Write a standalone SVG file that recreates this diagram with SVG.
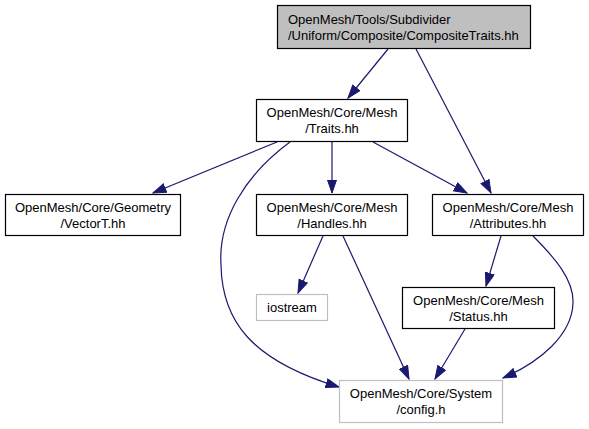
<svg xmlns="http://www.w3.org/2000/svg" width="589" height="429" viewBox="0 0 589 429">
<style>
  .bg { fill: #ffffff; }
  .box { fill: #ffffff; stroke: #000000; stroke-width: 1.2; }
  .cur { fill: #bfbfbf; stroke: #000000; stroke-width: 1.2; }
  .ext { fill: #ffffff; stroke: #bfbfbf; stroke-width: 1.2; }
  text { font-family: "Liberation Sans", Arial, Helvetica, sans-serif; font-size: 13px; fill: #000000; }
  .c { text-anchor: middle; }
  .edge { fill: none; stroke: #191970; stroke-width: 1.2; marker-end: url(#arr); }
</style>
<defs>
  <marker id="arr" markerUnits="userSpaceOnUse" markerWidth="15" markerHeight="12" refX="13.5" refY="5" orient="auto">
    <path d="M0.5,0.5 L13.5,5 L0.5,9.5 z" fill="#191970" stroke="#191970" stroke-width="1"/>
  </marker>
</defs>
<rect class="bg" x="0" y="0" width="589" height="429"/>
<g id="edges">
  <path class="edge" d="M388,49 L348,98"/>
  <path class="edge" d="M416,49 L491,193"/>
  <path class="edge" d="M277,142 L153,193"/>
  <path class="edge" d="M332,142 L332,193"/>
  <path class="edge" d="M373,142 L467,193"/>
  <path class="edge" d="M290,142 C245,175 218,220 221,265 C222,320 250,360 339,387"/>
  <path class="edge" d="M323,236 L298,293"/>
  <path class="edge" d="M343,236 L409,379"/>
  <path class="edge" d="M501,236 L486,286"/>
  <path class="edge" d="M533,236 C555,258 574,280 573,303 C572,335 540,362 503,378"/>
  <path class="edge" d="M465,329 L435,379"/>
</g>
<g id="node-composite-traits">
  <rect class="cur" x="277.5" y="5.5" width="253" height="43"/>
  <text x="288" y="24">OpenMesh/Tools/Subdivider</text>
  <text x="288" y="40">/Uniform/Composite/CompositeTraits.hh</text>
</g>
<g id="node-traits">
  <rect class="box" x="256.5" y="99.5" width="151" height="42"/>
  <text class="c" x="332" y="117">OpenMesh/Core/Mesh</text>
  <text class="c" x="332" y="133">/Traits.hh</text>
</g>
<g id="node-vectort">
  <rect class="box" x="5.5" y="194.5" width="175" height="41"/>
  <text class="c" x="93" y="211.5">OpenMesh/Core/Geometry</text>
  <text class="c" x="93" y="227.5">/VectorT.hh</text>
</g>
<g id="node-handles">
  <rect class="box" x="256.5" y="194.5" width="151" height="41"/>
  <text class="c" x="332" y="211.5">OpenMesh/Core/Mesh</text>
  <text class="c" x="332" y="227.5">/Handles.hh</text>
</g>
<g id="node-attributes">
  <rect class="box" x="432.5" y="194.5" width="151" height="41"/>
  <text class="c" x="508" y="211.5">OpenMesh/Core/Mesh</text>
  <text class="c" x="508" y="227.5">/Attributes.hh</text>
</g>
<g id="node-iostream">
  <rect class="ext" x="256.5" y="294.5" width="71" height="26"/>
  <text class="c" x="292" y="312">iostream</text>
</g>
<g id="node-status">
  <rect class="box" x="402.5" y="287.5" width="152" height="41"/>
  <text class="c" x="478.5" y="304.5">OpenMesh/Core/Mesh</text>
  <text class="c" x="478.5" y="320.5">/Status.hh</text>
</g>
<g id="node-config">
  <rect class="ext" x="339.5" y="380.5" width="163" height="42"/>
  <text class="c" x="421" y="398">OpenMesh/Core/System</text>
  <text class="c" x="421" y="414">/config.h</text>
</g>
</svg>
